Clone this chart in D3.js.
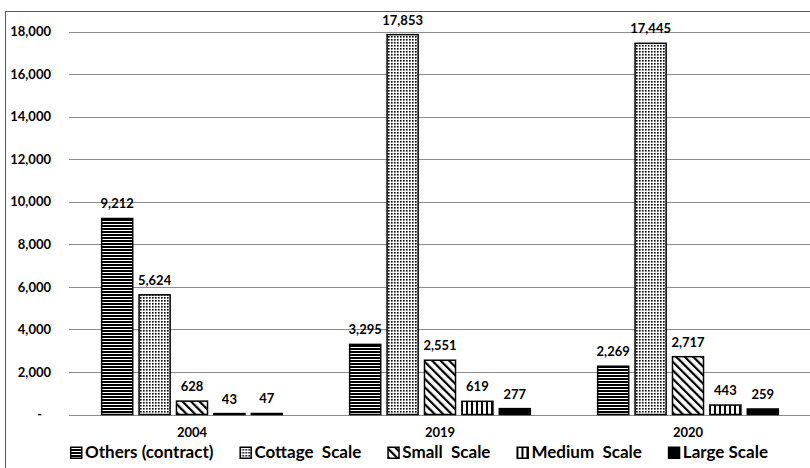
<!DOCTYPE html>
<html>
<head>
<meta charset="utf-8">
<script src="https://cdn.jsdelivr.net/npm/d3@7"></script>
<style>
  body { margin: 0; background: #fff; }
  svg { display: block; font-family: Lato, "Open Sans", sans-serif; }
  text { white-space: pre; }
</style>
</head>
<body>
<div id="chart"></div>
<script>
// chart data
const years = ['2004', '2019', '2020'];
const seriesNames = ['Others (contract)', 'Cottage  Scale', 'Small  Scale', 'Medium  Scale', 'Large Scale'];
const others = [9212, 3295, 2269];
const cottage = [5624, 17853, 17445];
const small = [628, 2551, 2717];
const medium = [43, 619, 443];
const large = [47, 277, 259];
const yTicks = [0, 2000, 4000, 6000, 8000, 10000, 12000, 14000, 16000, 18000];

const width = 810, height = 468;
const margin = { top: 31.5, right: -2, bottom: 53.5, left: 68 };

const svg = d3.select('#chart').append('svg')
  .attr('width', width)
  .attr('height', height);

// fill patterns for each series
const defs = svg.append('defs');

let p = defs.append('pattern').attr('id', 'p0')
  .attr('patternUnits', 'userSpaceOnUse').attr('width', 4).attr('height', 3);
p.append('rect').attr('width', 4).attr('height', 3).attr('fill', '#fff');
p.append('rect').attr('width', 4).attr('height', 2).attr('fill', '#000');

p = defs.append('pattern').attr('id', 'p1')
  .attr('patternUnits', 'userSpaceOnUse').attr('width', 3).attr('height', 3);
p.append('rect').attr('width', 3).attr('height', 3).attr('fill', '#fff');
p.append('rect').attr('width', 1.6).attr('height', 1.6).attr('fill', '#000');

p = defs.append('pattern').attr('id', 'p2')
  .attr('patternUnits', 'userSpaceOnUse').attr('width', 6).attr('height', 6)
  .attr('patternTransform', 'rotate(-45)');
p.append('rect').attr('width', 6).attr('height', 6).attr('fill', '#fff');
p.append('rect').attr('width', 2.2).attr('height', 6).attr('fill', '#000');

p = defs.append('pattern').attr('id', 'p3')
  .attr('patternUnits', 'userSpaceOnUse').attr('width', 5).attr('height', 5);
p.append('rect').attr('width', 5).attr('height', 5).attr('fill', '#fff');
p.append('rect').attr('width', 2).attr('height', 5).attr('fill', '#000');

const fills = ['url(#p0)', 'url(#p1)', 'url(#p2)', 'url(#p3)', '#000'];
const seriesValues = [others, cottage, small, medium, large];

// outer frame (right and bottom are cut off in the original)
svg.append('rect')
  .attr('x', 5.5).attr('y', 11.5)
  .attr('width', 900).attr('height', 600)
  .attr('fill', 'none')
  .attr('stroke', '#595959')
  .attr('stroke-width', 1);

// scales
const x0 = d3.scaleBand()
  .domain(years)
  .range([margin.left, width - margin.right]);
const x1 = d3.scaleBand()
  .domain(d3.range(seriesNames.length))
  .range([0, x0.bandwidth()])
  .paddingInner(0.17)
  .paddingOuter(0.9);
const y = d3.scaleLinear()
  .domain([0, 18000])
  .range([height - margin.bottom, margin.top]);

// gridlines
svg.append('g')
  .selectAll('line')
  .data(yTicks)
  .join('line')
  .attr('x1', margin.left + 1)
  .attr('x2', width)
  .attr('y1', d => Math.round(y(d)) + 0.5)
  .attr('y2', d => Math.round(y(d)) + 0.5)
  .attr('stroke', '#8c8c8c')
  .attr('stroke-width', 1);

// y axis
const yAxis = svg.append('g')
  .attr('transform', `translate(${margin.left},0)`)
  .call(d3.axisLeft(y).tickValues(yTicks).tickSize(0).tickPadding(17)
    .tickFormat(d => d === 0 ? '-' : d3.format(',')(d)));
yAxis.select('.domain').remove();
yAxis.selectAll('text')
  .attr('font-family', 'Lato, sans-serif')
  .attr('font-size', 13)
  .attr('font-weight', 'bold')
  .attr('fill', '#000')
  .attr('dx', d => d === 0 ? -9 : 0);

// x axis labels
const xAxis = svg.append('g')
  .attr('transform', `translate(0,${height - margin.bottom})`)
  .call(d3.axisBottom(x0).tickSize(0).tickPadding(13));
xAxis.select('.domain').remove();
xAxis.selectAll('text')
  .attr('font-family', 'Lato, sans-serif')
  .attr('font-size', 13)
  .attr('font-weight', 'bold')
  .attr('fill', '#000');

// bars
const groups = svg.append('g')
  .selectAll('g')
  .data(years)
  .join('g')
  .attr('transform', d => `translate(${x0(d)},0)`);

const barData = (yr, i) => seriesValues.map((vals, s) => ({ s: s, value: vals[i] }));

groups.selectAll('rect')
  .data(barData)
  .join('rect')
  .attr('x', d => x1(d.s))
  .attr('y', d => y(d.value))
  .attr('width', x1.bandwidth())
  .attr('height', d => y(0) - y(d.value))
  .attr('fill', d => fills[d.s])
  .attr('stroke', '#000')
  .attr('stroke-width', 1.5);

// value labels
groups.selectAll('text')
  .data(barData)
  .join('text')
  .attr('x', d => x1(d.s) + x1.bandwidth() / 2)
  .attr('y', d => y(d.value) - 10)
  .attr('text-anchor', 'middle')
  .attr('font-size', 13)
  .attr('font-weight', 'bold')
  .attr('fill', '#000')
  .text(d => d3.format(',')(d.value));

// legend
const legend = svg.append('g').attr('transform', 'translate(70,458)');
let lx = 0;
seriesNames.forEach((name, i) => {
  const item = legend.append('g').attr('transform', `translate(${lx},0)`);
  item.append('rect')
    .attr('x', 0.75).attr('y', -10.75)
    .attr('width', 11).attr('height', 11)
    .attr('fill', fills[i])
    .attr('stroke', '#000')
    .attr('stroke-width', 1.5);
  const t = item.append('text')
    .attr('x', 15)
    .attr('y', 0)
    .attr('font-size', 17)
    .attr('font-weight', 'bold')
    .attr('fill', '#000')
    .text(name);
  lx += 15 + t.node().getComputedTextLength() + 26;
});
</script>
</body>
</html>
